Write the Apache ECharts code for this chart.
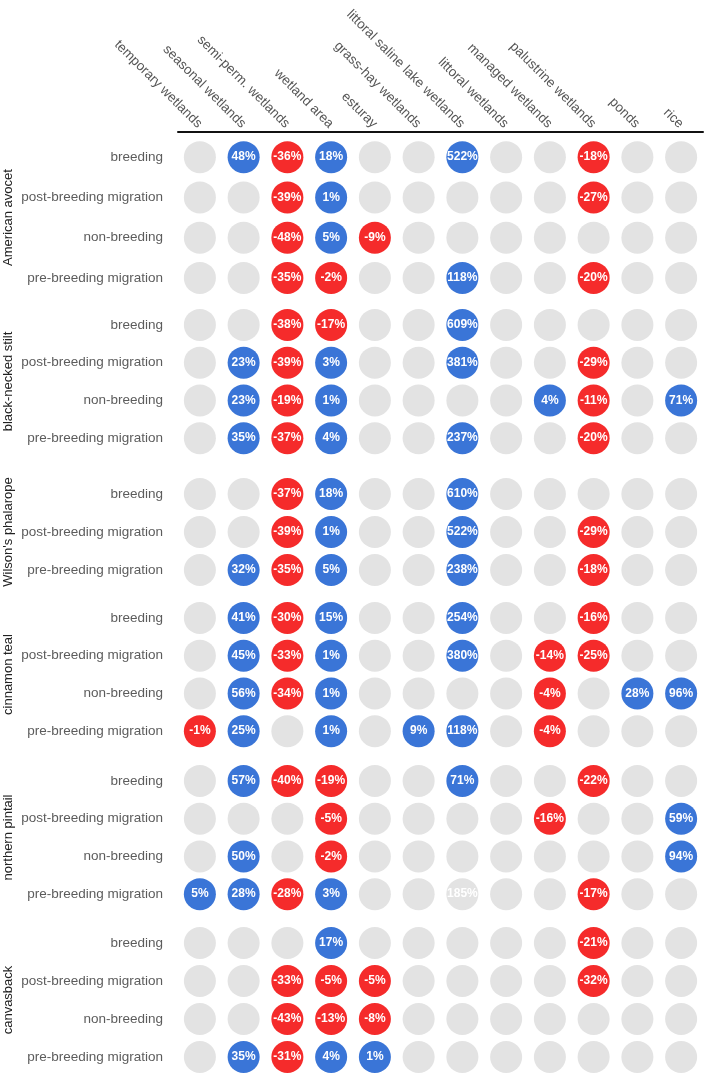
<!DOCTYPE html>
<html>
<head>
<meta charset="utf-8">
<script src="https://cdn.jsdelivr.net/npm/echarts@6/dist/echarts.min.js"></script>
<style>
  html, body { margin: 0; padding: 0; background: #fff; }
  #main { width: 709px; height: 1074px; }
</style>
</head>
<body>
<div id="main"></div>
<script>
// habitat columns (x axis)
var columns = ['temporary wetlands', 'seasonal wetlands', 'semi-perm. wetlands', 'wetland area',
  'esturay', 'grass-hay wetlands', 'littoral saline lake wetlands', 'littoral wetlands',
  'managed wetlands', 'palustrine wetlands', 'ponds', 'rice'];

var phases4 = ['breeding', 'post-breeding migration', 'non-breeding', 'pre-breeding migration'];
var phases3 = ['breeding', 'post-breeding migration', 'pre-breeding migration'];

// % change per habitat, null = no estimate
var americanAvocet = [
  [null, 48, -36, 18, null, null, 522, null, null, -18, null, null],
  [null, null, -39, 1, null, null, null, null, null, -27, null, null],
  [null, null, -48, 5, -9, null, null, null, null, null, null, null],
  [null, null, -35, -2, null, null, 118, null, null, -20, null, null]
];
var blackNeckedStilt = [
  [null, null, -38, -17, null, null, 609, null, null, null, null, null],
  [null, 23, -39, 3, null, null, 381, null, null, -29, null, null],
  [null, 23, -19, 1, null, null, null, null, 4, -11, null, 71],
  [null, 35, -37, 4, null, null, 237, null, null, -20, null, null]
];
var wilsonsPhalarope = [
  [null, null, -37, 18, null, null, 610, null, null, null, null, null],
  [null, null, -39, 1, null, null, 522, null, null, -29, null, null],
  [null, 32, -35, 5, null, null, 238, null, null, -18, null, null]
];
var cinnamonTeal = [
  [null, 41, -30, 15, null, null, 254, null, null, -16, null, null],
  [null, 45, -33, 1, null, null, 380, null, -14, -25, null, null],
  [null, 56, -34, 1, null, null, null, null, -4, null, 28, 96],
  [-1, 25, null, 1, null, 9, 118, null, -4, null, null, null]
];
var northernPintail = [
  [null, 57, -40, -19, null, null, 71, null, null, -22, null, null],
  [null, null, null, -5, null, null, null, null, -16, null, null, 59],
  [null, 50, null, -2, null, null, null, null, null, null, null, 94],
  [5, 28, -28, 3, null, null, 185, null, null, -17, null, null]
];
var canvasback = [
  [null, null, null, 17, null, null, null, null, null, -21, null, null],
  [null, null, -33, -5, -5, null, null, null, null, -32, null, null],
  [null, null, -43, -13, -8, null, null, null, null, null, null, null],
  [null, 35, -31, 4, 1, null, null, null, null, null, null, null]
];

// cells with an estimate that is drawn grey (species, row, column)
var greyedCells = [['northern pintail', 3, 6]];

var groups = [
  { name: 'American avocet', rows: phases4, values: americanAvocet },
  { name: 'black-necked stilt', rows: phases4, values: blackNeckedStilt },
  { name: "Wilson's phalarope", rows: phases3, values: wilsonsPhalarope },
  { name: 'cinnamon teal', rows: phases4, values: cinnamonTeal },
  { name: 'northern pintail', rows: phases4, values: northernPintail },
  { name: 'canvasback', rows: phases4, values: canvasback }
];

// grid top / height for each species block
var blocks = [[137, 161], [306, 151], [475, 114], [599, 151], [762, 151], [924, 152]];

var BLUE = '#3a75d7', RED = '#f52b2b', GREY = '#e3e3e3';
var FONT = 'Liberation Sans';

function isGreyed(name, r, c) {
  return greyedCells.some(function (g) { return g[0] === name && g[1] === r && g[2] === c; });
}

var grids = [], xAxes = [], yAxes = [], series = [];
groups.forEach(function (g, i) {
  grids.push({ left: 178, width: 525, top: blocks[i][0], height: blocks[i][1], outerBoundsMode: 'none' });
  xAxes.push({
    gridIndex: i, type: 'category', data: columns, position: 'top', show: i === 0, offset: 5,
    axisLine: { lineStyle: { color: '#111', width: 2 } },
    axisTick: { alignWithLabel: true, length: 5, lineStyle: { color: '#111', width: 2 } },
    axisLabel: { interval: 0, rotate: 45, margin: 6, color: '#555', fontSize: 13.5, fontFamily: FONT },
    splitLine: { show: false }
  });
  yAxes.push({
    gridIndex: i, type: 'category', data: g.rows, inverse: true,
    axisLine: { show: false }, axisTick: { show: false }, splitLine: { show: false },
    axisLabel: { margin: 15, color: '#5c5c5c', fontSize: 13.5, fontFamily: FONT },
    name: g.name, nameLocation: 'middle', nameRotate: 90, nameGap: 163, nameMoveOverlap: false,
    nameTextStyle: { color: '#222', fontSize: 13, fontFamily: FONT }
  });
  var data = [];
  g.values.forEach(function (row, r) {
    row.forEach(function (v, c) {
      var col = GREY;
      if (v !== null && !isGreyed(g.name, r, c)) col = v < 0 ? RED : BLUE;
      data.push({ value: [c, r, v], itemStyle: { color: col, opacity: 1 } });
    });
  });
  series.push({
    type: 'scatter', xAxisIndex: i, yAxisIndex: i, symbolSize: 32, data: data,
    label: {
      show: true, position: 'inside', color: '#fff', fontSize: 12, fontWeight: 'bold', fontFamily: FONT,
      formatter: function (p) { return p.value[2] === null ? '' : p.value[2] + '%'; }
    },
    emphasis: { disabled: true }
  });
});

var chart = echarts.init(document.getElementById('main'));
chart.setOption({
  animation: false,
  backgroundColor: '#fff',
  grid: grids,
  xAxis: xAxes,
  yAxis: yAxes,
  series: series
});
</script>
</body>
</html>
